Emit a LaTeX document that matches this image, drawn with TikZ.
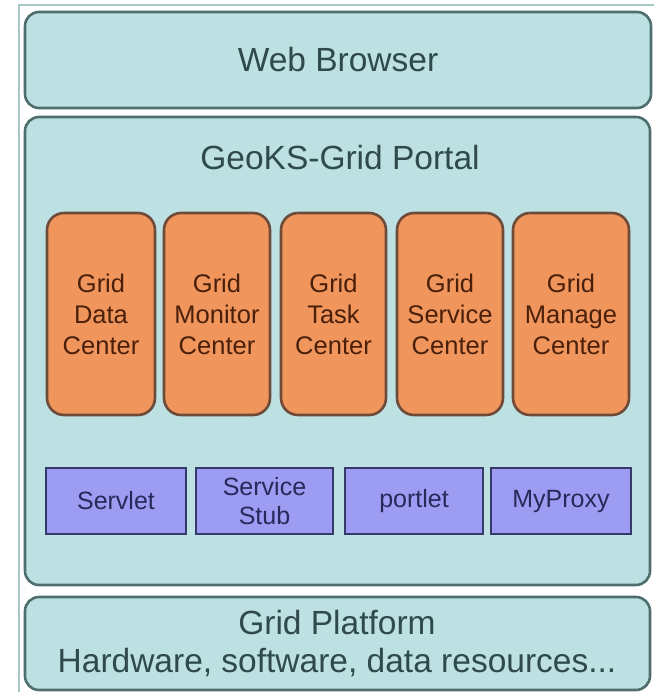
\documentclass[tikz,border=0pt]{standalone}
\usepackage{fontspec}
\setmainfont{Liberation Sans}
\definecolor{panelfill}{HTML}{BDE0E3}
\definecolor{panelline}{HTML}{4F6E6E}
\definecolor{paneltext}{HTML}{2F4A4A}
\definecolor{orfill}{HTML}{F0955C}
\definecolor{orline}{HTML}{6E4A38}
\definecolor{ortext}{HTML}{4A200A}
\definecolor{pufill}{HTML}{9C9CF2}
\definecolor{puline}{HTML}{353A6A}
\definecolor{putext}{HTML}{28285A}
\definecolor{frameline}{HTML}{A8C8C8}
\begin{document}
\begin{tikzpicture}[x=1pt,y=-1pt,
  panel/.style={draw=panelline, line width=2.6pt, fill=panelfill, rounded corners=14pt, inner sep=0pt},
  bigtext/.style={text=paneltext, font=\fontsize{33.5}{38}\selectfont, align=center, inner sep=0pt},
  center/.style={draw=orline, line width=2.6pt, fill=orfill, rounded corners=17pt, inner sep=0pt,
    minimum height=202pt, text=ortext, font=\fontsize{25.5}{31}\selectfont, align=center},
  comp/.style={draw=puline, line width=2.6pt, fill=pufill, inner sep=0pt,
    minimum height=66pt, text=putext, font=\fontsize{25}{29}\selectfont, align=center}]
\useasboundingbox (0,0) rectangle (654,692);
\fill[white] (0,0) rectangle (654,692);
\coordinate (fa) at (19,692);
\coordinate (fb) at (19,5);
\coordinate (fc) at (654,5);
\draw[frameline, line width=1.5pt] (fa) -- (fb) -- (fc);
% layers
\node[panel, minimum width=626pt, minimum height=96pt] (web) at (338,60) {};
\node[bigtext] (webt) at (338,60) {Web Browser};
\node[panel, minimum width=625pt, minimum height=468pt] (portal) at (337.5,351) {};
\node[bigtext] (portalt) at (340,158) {GeoKS-Grid Portal};
\node[panel, minimum width=625pt, minimum height=93pt] (platform) at (337.5,643.5) {};
\node[bigtext] (platformt) at (337,643) {Grid Platform\\Hardware, software, data resources...};
% centers
\node[center, minimum width=108pt] (c1) at (101,314) {Grid\\Data\\Center};
\node[center, minimum width=106pt] (c2) at (217,314) {Grid\\Monitor\\Center};
\node[center, minimum width=105pt] (c3) at (333.5,314) {Grid\\Task\\Center};
\node[center, minimum width=106pt] (c4) at (450,314) {Grid\\Service\\Center};
\node[center, minimum width=116pt] (c5) at (571,314) {Grid\\Manage\\Center};
% components
\node[comp, minimum width=140pt] (p1) at (116,501) {Servlet};
\node[comp, minimum width=137pt] (p2) at (264.5,501) {Service\\Stub};
\node[comp, minimum width=138pt] (p3) at (414,501) {portlet};
\node[comp, minimum width=140pt] (p4) at (561,501) {MyProxy};
\end{tikzpicture}
\end{document}
